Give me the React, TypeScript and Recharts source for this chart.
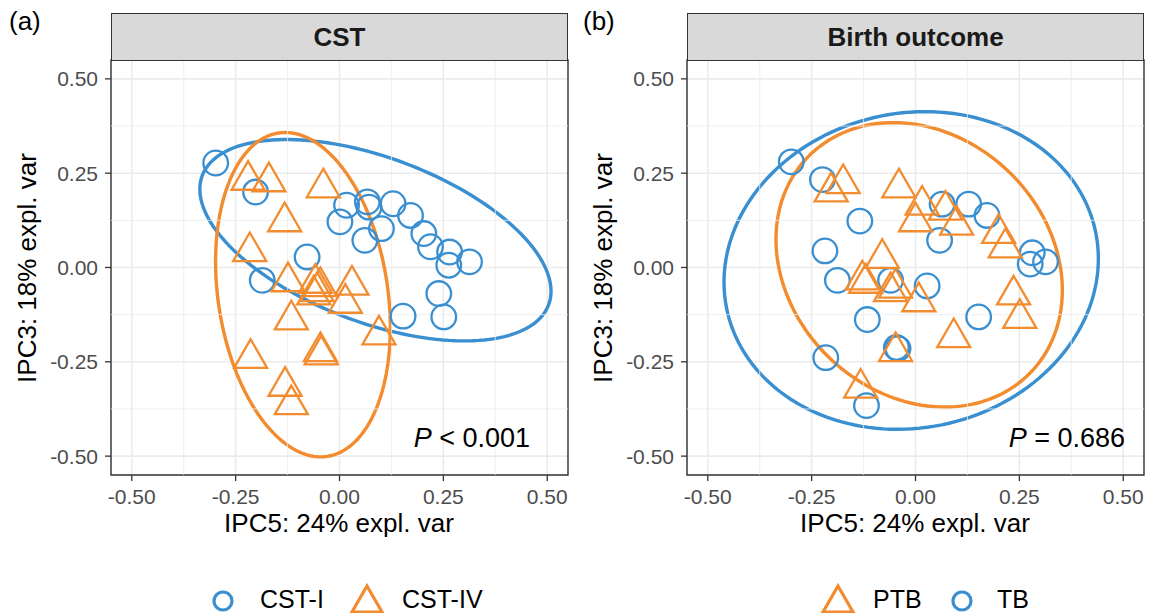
import React from 'react'
import * as RC from 'recharts'

const { ScatterChart, Scatter, XAxis, YAxis, CartesianGrid, ReferenceLine, ReferenceArea, Customized } = RC as any

// ---- data ----
const majorTicks = [-0.5, -0.25, 0, 0.25, 0.5]
const minorTicks = [-0.375, -0.125, 0.125, 0.375]
const axisDomain = [-0.55, 0.55]

// panel (a): CST
const cstI_x = [-0.298, -0.202, 0.017, 0.067, 0.071, 0.001, 0.129, 0.171, 0.101, 0.061, 0.203, 0.219, 0.265, 0.263, 0.313, -0.078, -0.186, 0.239, 0.251, 0.153]
const cstI_y = [0.277, 0.2, 0.165, 0.174, 0.16, 0.121, 0.169, 0.138, 0.103, 0.072, 0.09, 0.055, 0.041, 0.006, 0.015, 0.028, -0.034, -0.069, -0.131, -0.129]
const cstIV_x = [-0.22, -0.17, -0.039, -0.132, -0.216, -0.124, -0.058, -0.046, -0.054, -0.062, 0.03, 0.014, -0.116, 0.095, -0.046, -0.044, -0.214, -0.131, -0.116]
const cstIV_y = [0.244, 0.24, 0.224, 0.134, 0.055, -0.025, -0.029, -0.038, -0.051, -0.06, -0.034, -0.082, -0.126, -0.166, -0.21, -0.219, -0.228, -0.302, -0.351]

// panel (b): birth outcome
const tb_x = [-0.299, -0.224, -0.134, -0.218, -0.188, -0.06, 0.028, -0.116, -0.046, -0.042, -0.216, -0.118, 0.064, 0.128, 0.172, 0.058, 0.281, 0.276, 0.313, 0.152]
const tb_y = [0.28, 0.233, 0.123, 0.044, -0.034, -0.034, -0.049, -0.138, -0.212, -0.215, -0.239, -0.366, 0.168, 0.168, 0.138, 0.072, 0.039, 0.009, 0.015, -0.131]
const ptb_x = [-0.174, -0.203, -0.04, 0.016, 0.0, 0.072, 0.099, 0.2, 0.216, -0.08, -0.128, -0.12, -0.06, -0.048, 0.008, 0.236, 0.251, 0.092, -0.048, -0.132]
const ptb_y = [0.235, 0.213, 0.224, 0.178, 0.134, 0.165, 0.125, 0.103, 0.065, 0.037, -0.02, -0.029, -0.051, -0.042, -0.078, -0.06, -0.122, -0.173, -0.21, -0.307]

// 95% ellipses: centre x, centre y, first semi-axis (dx, dy), second semi-axis (dx, dy)
const cstI_ellipse = [0.0865, 0.0723, 0.4175, -0.1693, 0.0657, 0.2063]
const cstIV_ellipse = [-0.088, -0.072, 0.0585, -0.4286, 0.202, 0.0335]
const tb_ellipse = [-0.0104, -0.0079, 0.4503, 0.0176, 0.0144, 0.4206]
const ptb_ellipse = [0.0088, 0.0071, 0.343, -0.0309, -0.0337, 0.3757]

const BLUE = '#3a8fd1'
const ORANGE = '#f28c2e'
const FONT = '"Liberation Sans", Arial, Helvetica, sans-serif'

const toPoints = (xs: number[], ys: number[]) => xs.map((x, i) => ({ x, y: ys[i] }))
const fmt = (v: number) => v.toFixed(2)

const usePlot: () => any = (RC as any).usePlotArea ? (RC as any).usePlotArea : () => null

function CircleShape(color: string) {
  return (p: any) => <circle cx={p.cx} cy={p.cy} r={12.3} fill="none" stroke={color} strokeWidth={2.3} />
}

function TriangleShape(color: string) {
  return (p: any) => {
    const h = 14.3
    const w = 16.5
    return (
      <polygon
        points={`${p.cx},${p.cy - h} ${p.cx + w},${p.cy + h} ${p.cx - w},${p.cy + h}`}
        fill="none"
        stroke={color}
        strokeWidth={2.3}
        strokeLinejoin="miter"
      />
    )
  }
}

function EllipseLayer({ items }: { items: { e: number[]; color: string }[] }) {
  const area = usePlot() || { x: 111, y: 60, width: 457, height: 415 }
  const [d0, d1] = axisDomain
  const sx = (v: number) => area.x + ((v - d0) / (d1 - d0)) * area.width
  const sy = (v: number) => area.y + ((d1 - v) / (d1 - d0)) * area.height
  return (
    <g>
      {items.map(({ e, color }, k) => {
        const [cx, cy, ux, uy, vx, vy] = e
        let d = ''
        const n = 160
        for (let i = 0; i <= n; i++) {
          const t = (2 * Math.PI * i) / n
          const px = sx(cx + Math.cos(t) * ux + Math.sin(t) * vx)
          const py = sy(cy + Math.cos(t) * uy + Math.sin(t) * vy)
          d += (i === 0 ? 'M' : 'L') + px.toFixed(2) + ',' + py.toFixed(2)
        }
        return <path key={k} d={d + 'Z'} fill="none" stroke={color} strokeWidth={3.4} />
      })}
    </g>
  )
}

type PanelProps = {
  left: number
  circles: { x: number; y: number }[]
  triangles: { x: number; y: number }[]
  ellipses: { e: number[]; color: string }[]
}

function Panel({ left, circles, triangles, ellipses }: PanelProps) {
  const tick = { fontSize: 21, fill: '#4d4d4d', fontFamily: FONT }
  return (
    <div style={{ position: 'absolute', left, top: 0 }}>
      <ScatterChart width={580} height={545} margin={{ top: 60, right: 12, bottom: 0, left: 0 }}>
        <CartesianGrid stroke="#ebebeb" strokeWidth={1.6} />
        {minorTicks.map((v) => (
          <ReferenceLine key={'vx' + v} x={v} stroke="#ebebeb" strokeWidth={0.8} />
        ))}
        {minorTicks.map((v) => (
          <ReferenceLine key={'hy' + v} y={v} stroke="#ebebeb" strokeWidth={0.8} />
        ))}
        <XAxis
          type="number"
          dataKey="x"
          domain={axisDomain}
          allowDataOverflow
          ticks={majorTicks}
          tickFormatter={fmt}
          height={70}
          tick={tick}
          tickSize={6}
          tickMargin={8}
          axisLine={false}
          tickLine={{ stroke: '#333333', strokeWidth: 1.3 }}
        />
        <YAxis
          type="number"
          dataKey="y"
          domain={axisDomain}
          allowDataOverflow
          ticks={majorTicks}
          tickFormatter={fmt}
          width={111}
          tick={tick}
          tickSize={6}
          tickMargin={7}
          axisLine={false}
          tickLine={{ stroke: '#333333', strokeWidth: 1.3 }}
        />
        <Scatter data={circles} shape={CircleShape(BLUE)} isAnimationActive={false} />
        <Scatter data={triangles} shape={TriangleShape(ORANGE)} isAnimationActive={false} />
        <Customized component={<EllipseLayer items={ellipses} />} />
        <ReferenceArea
          x1={axisDomain[0]}
          x2={axisDomain[1]}
          y1={axisDomain[0]}
          y2={axisDomain[1]}
          fill="none"
          fillOpacity={0}
          stroke="#333333"
          strokeWidth={1.4}
        />
      </ScatterChart>
    </div>
  )
}

const text = (style: React.CSSProperties, content: React.ReactNode) => (
  <div style={{ position: 'absolute', fontFamily: FONT, whiteSpace: 'nowrap', color: '#000', ...style }}>{content}</div>
)

function Strip({ left, label }: { left: number; label: string }) {
  return (
    <div
      style={{
        position: 'absolute',
        left,
        top: 13,
        width: 457,
        height: 48,
        boxSizing: 'border-box',
        background: '#d9d9d9',
        border: '1.4px solid #333333',
        fontFamily: FONT,
        fontWeight: 'bold',
        fontSize: 26,
        color: '#1a1a1a',
        display: 'flex',
        alignItems: 'center',
        justifyContent: 'center',
      }}
    >
      {label}
    </div>
  )
}

function LegendCircle({ x }: { x: number }) {
  return (
    <svg style={{ position: 'absolute', left: x - 12, top: 589 }} width={24} height={24}>
      <circle cx={12} cy={12} r={9} fill="none" stroke={BLUE} strokeWidth={3.2} />
    </svg>
  )
}

function LegendTriangle({ x }: { x: number }) {
  return (
    <svg style={{ position: 'absolute', left: x - 18, top: 583 }} width={36} height={30}>
      <polygon points="18,3 33,29 3,29" fill="none" stroke={ORANGE} strokeWidth={3.2} />
    </svg>
  )
}

export default function App() {
  const xTitle = 'IPC5: 24% expl. var'
  const yTitle = 'IPC3: 18% expl. var'
  const legendText = { top: 587, fontSize: 25, lineHeight: '25px' }
  return (
    <div style={{ position: 'absolute', left: 0, top: 0, width: 1158, height: 614, background: '#fff', overflow: 'hidden' }}>
      <Panel
        left={0}
        circles={toPoints(cstI_x, cstI_y)}
        triangles={toPoints(cstIV_x, cstIV_y)}
        ellipses={[
          { e: cstI_ellipse, color: BLUE },
          { e: cstIV_ellipse, color: ORANGE },
        ]}
      />
      <Panel
        left={576}
        circles={toPoints(tb_x, tb_y)}
        triangles={toPoints(ptb_x, ptb_y)}
        ellipses={[
          { e: tb_ellipse, color: BLUE },
          { e: ptb_ellipse, color: ORANGE },
        ]}
      />
      <Strip left={111} label="CST" />
      <Strip left={687} label="Birth outcome" />
      {text({ left: 9, top: 6, fontSize: 26 }, '(a)')}
      {text({ left: 583, top: 6, fontSize: 26 }, '(b)')}
      {text({ left: 27, top: 268, fontSize: 26, transform: 'translate(-50%, -50%) rotate(-90deg)' }, yTitle)}
      {text({ left: 603, top: 268, fontSize: 26, transform: 'translate(-50%, -50%) rotate(-90deg)' }, yTitle)}
      {text({ left: 339, top: 523, fontSize: 26, transform: 'translate(-50%, -50%)' }, xTitle)}
      {text({ left: 915, top: 523, fontSize: 26, transform: 'translate(-50%, -50%)' }, xTitle)}
      {text({ left: 0, width: 530, top: 425, fontSize: 27, lineHeight: '27px', textAlign: 'right' }, (
        <span><i>P</i> &lt; 0.001</span>
      ))}
      {text({ left: 0, width: 1125, top: 425, fontSize: 27, lineHeight: '27px', textAlign: 'right' }, (
        <span><i>P</i> = 0.686</span>
      ))}
      <LegendCircle x={223} />
      {text({ left: 260, ...legendText }, 'CST-I')}
      <LegendTriangle x={367} />
      {text({ left: 402, ...legendText }, 'CST-IV')}
      <LegendTriangle x={838} />
      {text({ left: 873, ...legendText }, 'PTB')}
      <LegendCircle x={962} />
      {text({ left: 997, ...legendText }, 'TB')}
    </div>
  )
}
